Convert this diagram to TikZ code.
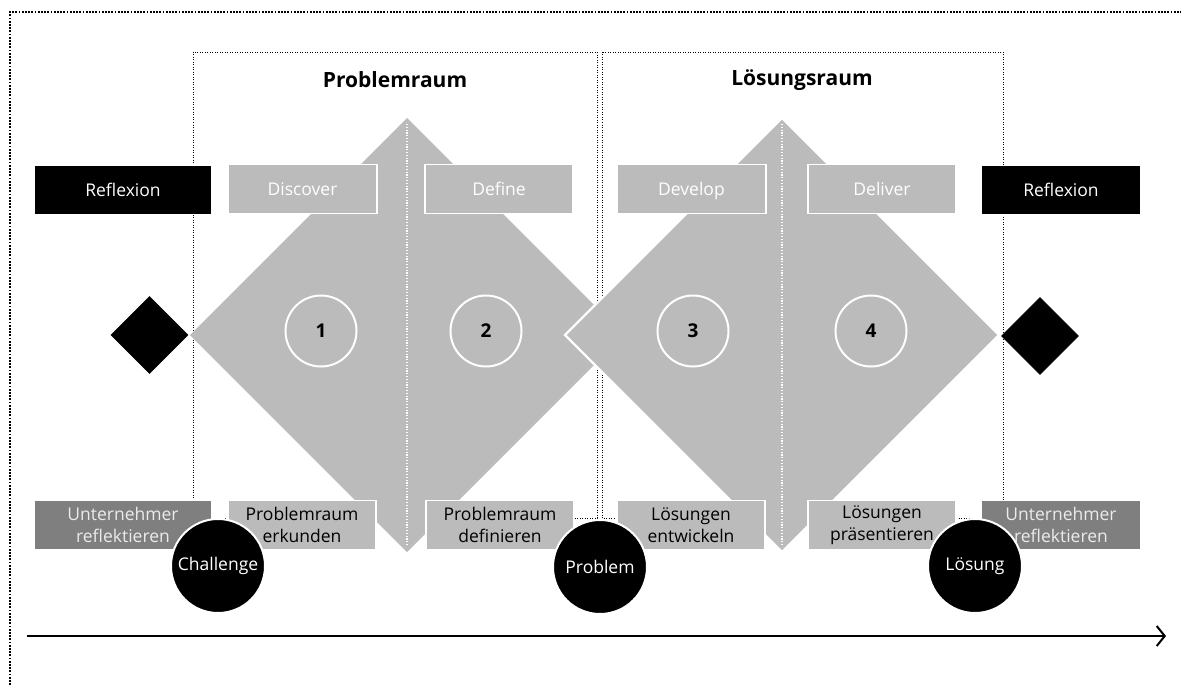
\documentclass[tikz,border=0pt]{standalone}
\usepackage{fontspec}
\setmainfont{Open Sans}
\usetikzlibrary{arrows.meta,shapes.geometric}
\definecolor{lgrey}{HTML}{BBBBBB}
\definecolor{dgrey}{HTML}{7F7F7F}
\begin{document}
\begin{tikzpicture}[x=1pt,y=-1pt,
  box/.style={draw=white,line width=1.5pt,minimum height=49pt,inner sep=0pt,
    font=\fontsize{17.5}{22}\selectfont,align=center},
  onebox/.style={box,text height=18pt,text depth=4.5pt},
  topbox/.style={onebox,fill=lgrey,text=white},
  blackbox/.style={onebox,fill=black,text=white},
  botbox/.style={box,fill=lgrey,text=black},
  darkbox/.style={box,fill=dgrey,text=white!92!black},
  milestone/.style={circle,fill=black,draw=white,line width=2pt,minimum size=94pt,
    inner sep=0pt,text=white,font=\fontsize{17.5}{20}\selectfont},
  num/.style={circle,draw=white,line width=2pt,minimum size=71pt,inner sep=0pt,
    font=\bfseries\fontsize{19}{20}\selectfont},
  gate/.style={diamond,aspect=1,fill=black,inner sep=0pt,minimum width=78pt,minimum height=78pt},
  frame/.style={dash pattern=on 0.9pt off 1.6pt,line width=0.9pt},
  outerframe/.style={dash pattern=on 1.8pt off 1.4pt,line width=1.8pt},
  axis/.style={dash pattern=on 1.2pt off 1.6pt,line width=1.2pt,white},
  title/.style={font=\bfseries\fontsize{21}{24}\selectfont}
]
\useasboundingbox (0,0) rectangle (1181,685);
% outer frame
\draw[outerframe] (10,685) -- (10,12) -- (1181,12);
% space frames
\draw[frame] (193,52) rectangle (597,518);
\draw[frame] (602,52) rectangle (1003,518);
% titles
\node[title] (t1) at (395,80) {Problemraum};
\node[title] (t2) at (802,80) {Lösungsraum};
% big diamonds
\fill[lgrey] (407,118) -- (624,335) -- (407,552) -- (190,335) -- cycle;
\filldraw[fill=lgrey,draw=white,line width=2.2pt] (782,118) -- (999,335) -- (782,552) -- (565,335) -- cycle;
\draw[axis] (407,124) -- (407,546);
\draw[axis] (782,124) -- (782,546);
% numbers
\node[num] (n1) at (321,331) {1};
\node[num] (n2) at (486,331) {2};
\node[num] (n3) at (693,331) {3};
\node[num] (n4) at (871,331) {4};
% top boxes
\node[blackbox,minimum width=178pt] (r1) at (123,190) {Reflexion};
\node[topbox,minimum width=149pt] (d1) at (302.5,189) {Discover};
\node[topbox,minimum width=148pt] (d2) at (499,189) {Define};
\node[topbox,minimum width=149pt] (d3) at (691.5,189) {Develop};
\node[topbox,minimum width=148pt] (d4) at (882,189) {Deliver};
\node[blackbox,minimum width=160pt] (r2) at (1061,190) {Reflexion};
% bottom boxes
\node[darkbox,minimum width=178pt] (u1) at (123,525) {Unternehmer\\reflektieren};
\node[botbox,minimum width=148pt] (b1) at (302,525) {Problemraum\\erkunden};
\node[botbox,minimum width=148pt] (b2) at (500,525) {Problemraum\\definieren};
\node[botbox,minimum width=148pt] (b3) at (691,525) {Lösungen\\entwickeln};
\node[botbox,minimum width=148pt] (b4) at (882,525) {Lösungen\\präsentieren};
\node[darkbox,minimum width=160pt] (u2) at (1061,525) {Unternehmer\\reflektieren};
% gates
\node[gate] (g1) at (149.5,335) {};
\node[gate] (g2) at (1040,336) {};
% milestones
\node[milestone] (m1) at (218,566) {Challenge};
\node[milestone] (m2) at (600,567) {Problem};
\node[milestone] (m3) at (975,566) {Lösung};
% time axis
\coordinate (ts) at (27,636);
\coordinate (te) at (1166,636);
\draw[line width=2pt,-{Straight Barb[length=8pt,width=20pt,line width=2pt]}] (ts) -- (te);
\end{tikzpicture}
\end{document}
